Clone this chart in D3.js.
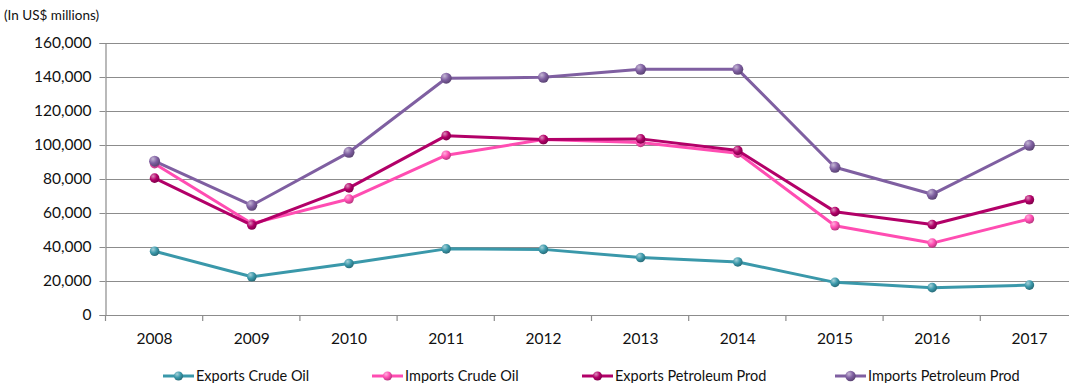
<!DOCTYPE html>
<html>
<head>
<meta charset="utf-8">
<script src="https://cdn.jsdelivr.net/npm/d3@7"></script>
<style>
  html, body { margin: 0; padding: 0; background: #fff; }
  svg { display: block; font-family: "Lato", "Open Sans", sans-serif; }
</style>
</head>
<body>
<svg id="chart" width="1069" height="383"></svg>
<script>
// Oil trade values, US$ millions
const years = ["2008","2009","2010","2011","2012","2013","2014","2015","2016","2017"];
const exportsCrudeOil      = [37500, 22500, 30300, 38900, 38600, 33800, 31200, 19200, 16100, 17600];
const importsCrudeOil      = [89000, 53800, 68200, 94000, 103200, 101500, 95200, 52500, 42300, 56500];
const exportsPetroleumProd = [80500, 52900, 74800, 105500, 103200, 103600, 96800, 60800, 53200, 67800];
const importsPetroleumProd = [90500, 64500, 95700, 139300, 139800, 144500, 144500, 86900, 71000, 99800];
const seriesNames  = ["Exports Crude Oil", "Imports Crude Oil", "Exports Petroleum Prod", "Imports Petroleum Prod"];
const seriesColors = ["#3a98aa", "#ff4db2", "#b20068", "#7f5fa1"];
const yTicks = [0, 20000, 40000, 60000, 80000, 100000, 120000, 140000, 160000];

const series = [exportsCrudeOil, importsCrudeOil, exportsPetroleumProd, importsPetroleumProd]
  .map((values, i) => ({ name: seriesNames[i], color: seriesColors[i], values }));

const svg = d3.select("#chart");
const plotLeft = 106, plotRight = 1078, plotTop = 43, plotBottom = 315;

const x = d3.scaleBand().domain(years).range([plotLeft, plotRight]);
const y = d3.scaleLinear().domain([0, 160000]).range([plotBottom, plotTop]);
const fmt = d3.format(",");

// sphere-like marker gradients
const defs = svg.append("defs");
series.forEach((s, i) => {
  const g = defs.append("radialGradient").attr("id", "m" + i)
    .attr("cx", "35%").attr("cy", "30%").attr("r", "70%");
  g.append("stop").attr("offset", "0%").attr("stop-color", d3.interpolateRgb(s.color, "#fff")(0.55));
  g.append("stop").attr("offset", "55%").attr("stop-color", s.color);
  g.append("stop").attr("offset", "100%").attr("stop-color", d3.color(s.color).darker(0.9));
});

// horizontal gridlines
svg.append("g").selectAll("line").data(yTicks.filter(t => t > 0)).join("line")
  .attr("x1", plotLeft).attr("x2", 1069)
  .attr("y1", d => Math.round(y(d)) + 0.5).attr("y2", d => Math.round(y(d)) + 0.5)
  .attr("stroke", "#8c8c8c").attr("stroke-width", 1.2);

// y axis
const yAxis = svg.append("g").attr("transform", `translate(${plotLeft - 0.5},0)`)
  .call(d3.axisLeft(y).tickValues(yTicks).tickFormat(fmt).tickSize(6).tickPadding(8));
yAxis.select(".domain").attr("stroke", "#8c8c8c").attr("stroke-width", 1.2);
yAxis.selectAll(".tick line").attr("stroke", "#8c8c8c");
yAxis.selectAll("text").attr("font-size", 15.5).attr("fill", "#111").attr("font-family", "Lato, sans-serif");

// x axis baseline, tick marks at category boundaries
svg.append("line").attr("x1", plotLeft).attr("x2", 1069)
  .attr("y1", plotBottom + 0.5).attr("y2", plotBottom + 0.5)
  .attr("stroke", "#8c8c8c").attr("stroke-width", 1.2);
svg.append("g").selectAll("line").data(years).join("line")
  .attr("x1", d => x(d) - 0.5).attr("x2", d => x(d) - 0.5)
  .attr("y1", plotBottom).attr("y2", plotBottom + 6)
  .attr("stroke", "#8c8c8c").attr("stroke-width", 1.2);
svg.append("g").selectAll("text").data(years).join("text")
  .attr("x", d => x(d) + x.bandwidth() / 2)
  .attr("y", 344)
  .attr("text-anchor", "middle").attr("font-size", 15.5).attr("fill", "#111")
  .text(d => d);

// unit label
svg.append("text").attr("x", 4).attr("y", 20).attr("font-size", 13.5).attr("fill", "#111")
  .text("(In US$ millions)");

// lines and markers
const line = d3.line()
  .x((d, i) => x(years[i]) + x.bandwidth() / 2)
  .y(d => y(d));

series.forEach((s, i) => {
  const g = svg.append("g");
  g.append("path").datum(s.values).attr("d", line)
    .attr("fill", "none").attr("stroke", s.color).attr("stroke-width", 3)
    .attr("stroke-linejoin", "round");
  g.selectAll("circle").data(s.values).join("circle")
    .attr("cx", (d, j) => x(years[j]) + x.bandwidth() / 2)
    .attr("cy", d => y(d))
    .attr("r", i === 3 ? 5.5 : 4.8)
    .attr("fill", `url(#m${i})`);
});

// legend: swatch line with marker, then label
const legendX = [163, 372, 582, 835];
const lg = svg.append("g");
series.forEach((s, i) => {
  const gx = legendX[i], gy = 376;
  lg.append("line").attr("x1", gx).attr("x2", gx + 31).attr("y1", gy).attr("y2", gy)
    .attr("stroke", s.color).attr("stroke-width", 3);
  lg.append("circle").attr("cx", gx + 15.5).attr("cy", gy).attr("r", i === 3 ? 5.2 : 4.6)
    .attr("fill", `url(#m${i})`);
  lg.append("text").attr("x", gx + 33).attr("y", gy + 5)
    .attr("font-size", 14.5).attr("fill", "#111").text(s.name);
});
</script>
</body>
</html>
